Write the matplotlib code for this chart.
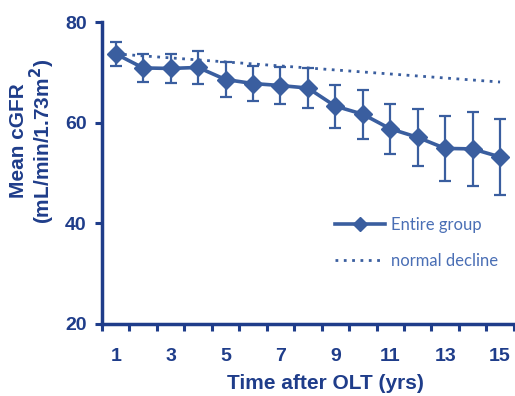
import matplotlib
matplotlib.use("Agg")
import matplotlib.pyplot as plt
from matplotlib.lines import Line2D
from matplotlib.ticker import FixedLocator

# values
years = [1, 2, 3, 4, 5, 6, 7, 8, 9, 10, 11, 12, 13, 14, 15]
mean_cgfr = [73.7, 70.9, 70.8, 71.0, 68.6, 67.8, 67.4, 66.9, 63.3, 61.7, 58.8, 57.1, 54.9, 54.8, 53.2]
err_cgfr = [2.4, 2.7, 2.9, 3.3, 3.4, 3.5, 3.7, 4.0, 4.3, 4.9, 5.0, 5.6, 6.4, 7.3, 7.6]
normal_decline = [73.7, 73.3, 72.9, 72.5, 72.1, 71.7, 71.3, 70.9, 70.5, 70.1, 69.7, 69.3, 68.9, 68.5, 68.1]
xtick_labels = ["1", "3", "5", "7", "9", "11", "13", "15"]
ytick_vals = [20, 40, 60, 80]

line_col = "#3a5e9f"
axis_col = "#1f3d8a"
legend_col = "#4a6fb5"

plt.rcParams["font.family"] = ["Liberation Sans", "DejaVu Sans"]

fig = plt.figure(figsize=(5.15, 3.96), dpi=100)
ax = fig.add_axes([0.198, 0.182, 0.805, 0.762])

norm_line, = ax.plot(years, normal_decline, linestyle=(0, (1, 2)), color=line_col, lw=2.0,
                     zorder=2)
ax.errorbar(years, mean_cgfr, yerr=err_cgfr, color=line_col, lw=2.6, marker="D",
            markersize=9.5, elinewidth=1.6, capsize=4.5, capthick=1.6, zorder=3)

ax.set_xlim(0.5, 15.6)
ax.set_ylim(20, 80)

ax.spines["top"].set_visible(False)
ax.spines["right"].set_visible(False)
for s in ["left", "bottom"]:
    ax.spines[s].set_color(axis_col)
    ax.spines[s].set_linewidth(2.5)

ax.set_xticks([int(t) for t in xtick_labels])
ax.set_xticklabels(xtick_labels)
ax.xaxis.set_minor_locator(FixedLocator([x + 0.5 for x in range(0, 16)]))
ax.tick_params(axis="x", which="major", length=0, pad=17)
ax.tick_params(axis="x", which="minor", length=5, width=2.2, color=axis_col, direction="out")
ax.set_yticks(ytick_vals)
ax.tick_params(axis="y", length=5, width=2.2, color=axis_col, direction="out", pad=6)
for lbl in ax.get_xticklabels() + ax.get_yticklabels():
    lbl.set_fontsize(14)
    lbl.set_fontweight("bold")
    lbl.set_color(axis_col)

ax.set_xlabel("Time after OLT (yrs)", fontsize=15, fontweight="bold", color=axis_col)
ax.xaxis.set_label_coords(0.54, -0.165)
ax.set_ylabel("Mean cGFR\n(mL/min/1.73m$^\\mathbf{2}$)", fontsize=15, fontweight="bold",
              color=axis_col, linespacing=1.0)
ax.yaxis.set_label_coords(-0.108, 0.606)

# legend entry without the error bar glyph, like the original
group_handle = Line2D([], [], color=line_col, lw=2.6, marker="D", markersize=7.5)
leg = ax.legend([group_handle, norm_line], ["Entire group", "normal decline"],
                loc="upper left", bbox_to_anchor=(0.525, 0.405),
                frameon=False, handlelength=3.0, labelspacing=1.2, handletextpad=0.4,
                prop={"family": "Lato", "size": 12})
for t in leg.get_texts():
    t.set_color(legend_col)

fig.savefig("out.png", dpi=100)
